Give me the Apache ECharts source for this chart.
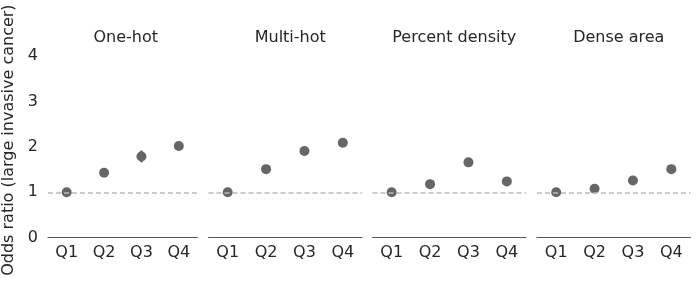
<!DOCTYPE html>
<html><head><meta charset="utf-8">
<script src="https://cdn.jsdelivr.net/npm/echarts@6/dist/echarts.min.js"></script>
<style>html,body{margin:0;padding:0;background:#fff}#c{width:698px;height:286px}</style>
</head><body><div id="c"></div>
<script>
const panelTitles = ['One-hot', 'Multi-hot', 'Percent density', 'Dense area'];
const categories = ['Q1', 'Q2', 'Q3', 'Q4'];
const oddsOneHot = [1.00, 1.43, 1.79, 2.02];
const oddsMultiHot = [1.00, 1.51, 1.91, 2.09];
const oddsPercent = [1.00, 1.18, 1.66, 1.24];
const oddsDense = [1.00, 1.08, 1.26, 1.51];
const lowOneHot = [1.00, 1.38, 1.66, 1.97];
const highOneHot = [1.00, 1.48, 1.92, 2.07];
const lowMultiHot = [1.00, 1.46, 1.85, 2.04];
const highMultiHot = [1.00, 1.56, 1.97, 2.14];
const lowPercent = [1.00, 1.15, 1.62, 1.21];
const highPercent = [1.00, 1.21, 1.70, 1.27];
const lowDense = [1.00, 1.05, 1.23, 1.48];
const highDense = [1.00, 1.11, 1.29, 1.54];
const yTicks = [0, 1, 2, 3, 4];
const refLine = 1;

const values = [oddsOneHot, oddsMultiHot, oddsPercent, oddsDense];
const lows = [lowOneHot, lowMultiHot, lowPercent, lowDense];
const highs = [highOneHot, highMultiHot, highPercent, highDense];

const font = 'DejaVu Sans';
const fs = 16;
const lefts = [44, 208.5, 372.5, 537];
const W = 153.5;
const grid = [], xAxis = [], yAxis = [], series = [], title = [];
for (let i = 0; i < 4; i++) {
  grid.push({left: lefts[i], width: W, top: 42.5, height: 195.2});
  title.push({text: panelTitles[i], left: lefts[i] + W / 2, top: 25, textAlign: 'center',
    textStyle: {fontFamily: font, fontSize: fs, fontWeight: 'normal', color: '#262626'}});
  xAxis.push({type: 'category', gridIndex: i, data: categories, boundaryGap: true,
    axisLine: {lineStyle: {color: '#555', width: 1.2}}, axisTick: {show: false},
    axisLabel: {fontFamily: font, fontSize: fs, color: '#262626', margin: 7}});
  yAxis.push({type: 'value', gridIndex: i, min: 0, max: 4.3, interval: 1,
    splitLine: {show: false}, axisLine: {show: false}, axisTick: {show: false},
    axisLabel: {show: i === 0, showMaxLabel: false, fontFamily: font, fontSize: fs, color: '#262626', margin: 10,
      formatter: v => yTicks.includes(v) ? String(v) : ''},
    name: i === 0 ? 'Odds ratio (large invasive cancer)' : '', nameLocation: 'middle', nameGap: 31,
    nameRotate: 90, nameTextStyle: {fontFamily: font, fontSize: fs, color: '#262626'}});
  series.push({type: 'scatter', xAxisIndex: i, yAxisIndex: i, data: values[i], symbolSize: 10,
    itemStyle: {color: '#666666', opacity: 1}, z: 3,
    markLine: {silent: true, symbol: 'none', label: {show: false},
      lineStyle: {color: '#bbbbbb', type: [5, 3], width: 1.5}, data: [{yAxis: refLine}]}});
  series.push({type: 'custom', xAxisIndex: i, yAxisIndex: i, z: 2,
    data: categories.map((c, j) => [j, lows[i][j], highs[i][j]]),
    renderItem: (params, api) => {
      const a = api.coord([api.value(0), api.value(1)]);
      const b = api.coord([api.value(0), api.value(2)]);
      return {type: 'line', shape: {x1: a[0], y1: a[1], x2: b[0], y2: b[1]},
        style: {stroke: '#666666', lineWidth: 2.5}};
    }});
}
const chart = echarts.init(document.getElementById('c'), null, {renderer: 'canvas'});
chart.setOption({animation: false, backgroundColor: '#fff', title, grid, xAxis, yAxis, series});
</script></body></html>
